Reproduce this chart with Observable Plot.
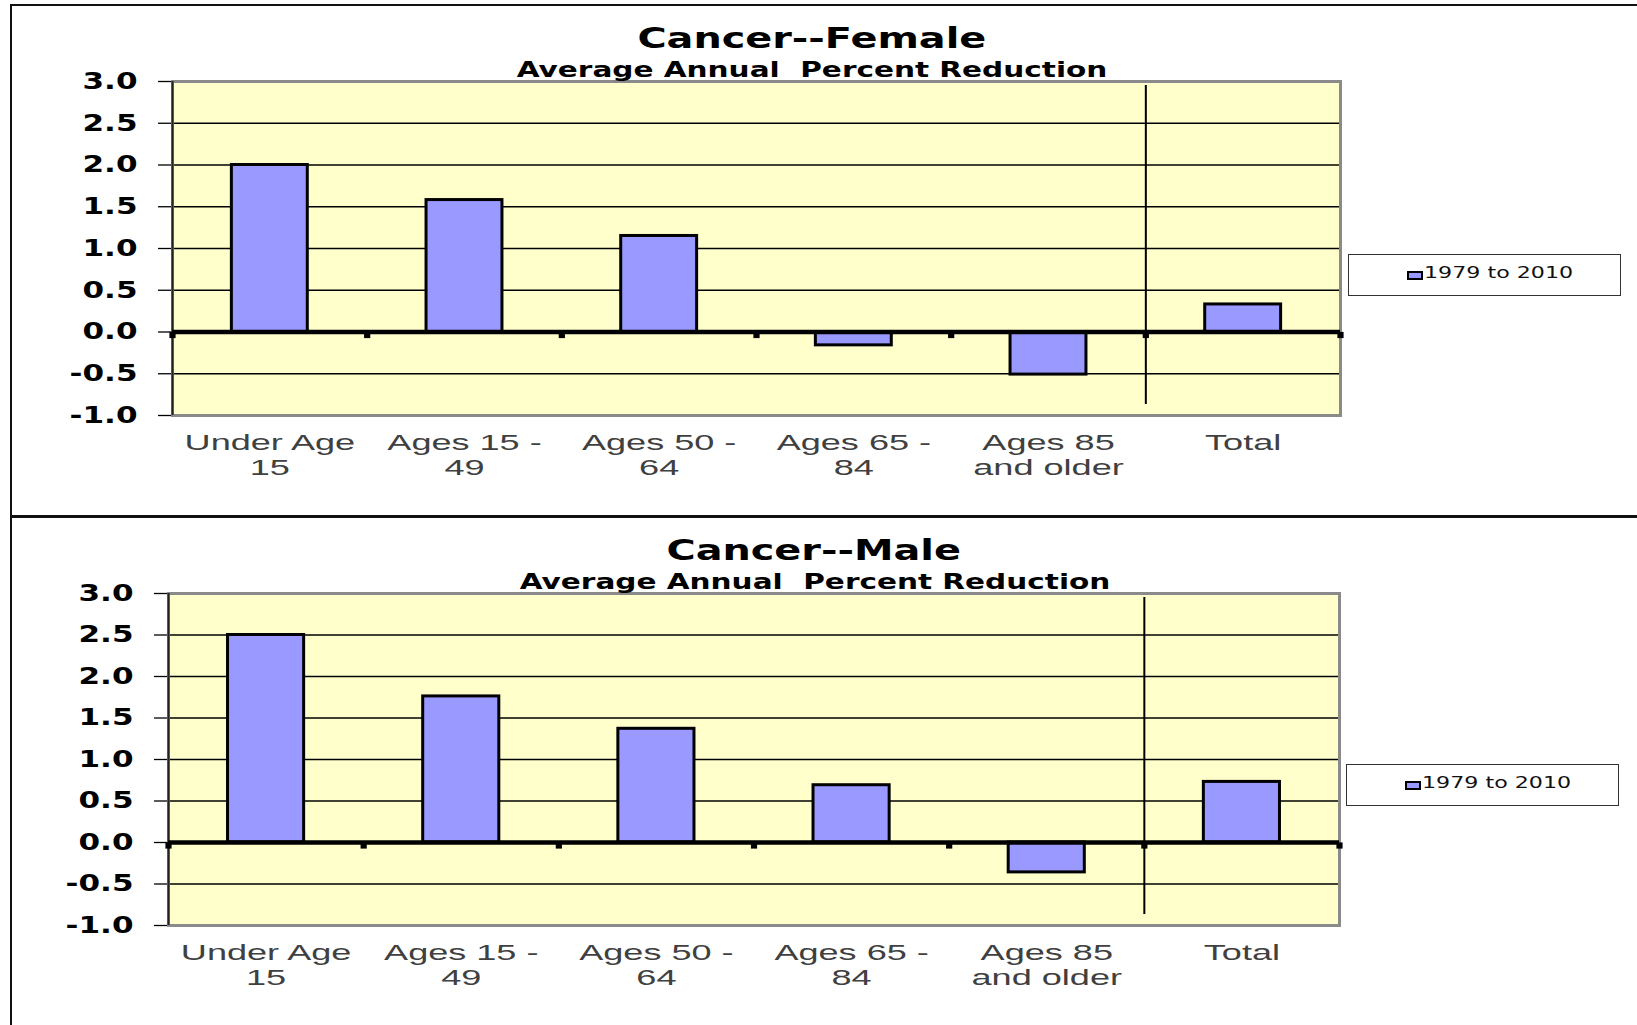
<!DOCTYPE html>
<html><head><meta charset="utf-8">
<script src="https://cdn.jsdelivr.net/npm/d3@7"></script>
<script src="https://cdn.jsdelivr.net/npm/@observablehq/plot@0.6"></script>
<style>
body{margin:0;background:#fff;}
#page{position:relative;width:1637px;height:1025px;overflow:hidden;background:#fff;font-family:"DejaVu Sans";}
.box{position:absolute;box-sizing:border-box;}
.ttl{position:absolute;width:1000px;text-align:center;font-weight:bold;color:#000;white-space:pre;line-height:1;}
.ttl span{display:inline-block;transform-origin:center;}
.legend{position:absolute;box-sizing:border-box;border:1.5px solid #333;background:#fff;width:273px;height:42px;}
.legend .sw{position:absolute;left:58px;top:16px;width:16px;height:9px;box-sizing:border-box;border:2px solid #000;background:#9999FF;}
.legend .lt{position:absolute;left:75px;top:11px;font-size:15.5px;line-height:1;color:#111;white-space:pre;transform:scaleX(1.43);transform-origin:left center;}
.chart{position:absolute;left:0;}
</style>
</head><body>
<div id="page"></div>
<script>
const categories = ["Under Age\n15", "Ages 15 -\n49", "Ages 50 -\n64", "Ages 65 -\n84", "Ages 85\nand older", "Total"];
const femaleValues = [2.0, 1.58, 1.15, -0.16, -0.51, 0.33];
const maleValues = [2.5, 1.76, 1.37, 0.69, -0.36, 0.73];
const yTicks = [-1.0, -0.5, 0.0, 0.5, 1.0, 1.5, 2.0, 2.5, 3.0];
const yDomain = [-1, 3];
const seriesName = "1979 to 2010";
const subtitleText = "Average Annual  Percent Reduction";
const panels = [
  {title: "Cancer--Female", values: femaleValues},
  {title: "Cancer--Male", values: maleValues}
];

const page = document.getElementById("page");

function panelChart(values, m) {
  const data = categories.map((c, i) => ({cat: c, idx: i, value: values[i]}));
  const boundaries = d3.range(categories.length + 1);
  const divider = [categories.indexOf("Total")];
  return Plot.plot({
    width: 1637, height: 500,
    marginTop: m.top, marginBottom: m.bottom, marginLeft: m.left, marginRight: m.right,
    x: {domain: [0, categories.length], axis: null},
    y: {domain: yDomain, axis: null},
    style: {fontFamily: "DejaVu Sans", background: "transparent", overflow: "visible"},
    marks: [
      Plot.frame({fill: "#FFFFCC", stroke: "none"}),
      Plot.ruleY(yTicks, {stroke: "#000", strokeWidth: 1.3}),
      Plot.axisY(yTicks, {tickSize: 14, tickPadding: 21, tickFormat: d => d.toFixed(1), fontSize: 23, fontWeight: "bold", color: "#000", strokeWidth: 1.3}),
      Plot.frame({stroke: "#8a8a8a", strokeWidth: 3}),
      Plot.ruleX([0], {x: () => 0, stroke: "#222", strokeWidth: 2}),
      Plot.ruleX(divider, {x: d => d, insetTop: 4, insetBottom: 11, stroke: "#000", strokeWidth: 2}),
      Plot.rect(data, {x1: d => d.idx + 0.305, x2: d => d.idx + 0.695, y1: () => 0, y2: d => d.value, fill: "#9999FF", stroke: "#000", strokeWidth: 3}),
      Plot.ruleY([0], {stroke: "#000", strokeWidth: 4.5}),
      Plot.dot(boundaries, {x: d => d, y: () => 0, symbol: "square", r: 3.5, fill: "#000", stroke: "none", dy: 3}),
      Plot.text(data, {x: d => d.idx + 0.5, text: d => d.cat.split("\n")[0], frameAnchor: "bottom", lineAnchor: "bottom", dy: 34, fontSize: 22, fontFamily: "Liberation Sans", fill: "#404040"}),
      Plot.text(data, {x: d => d.idx + 0.5, text: d => d.cat.split("\n")[1] || "", frameAnchor: "bottom", lineAnchor: "bottom", dy: 59, fontSize: 22, fontFamily: "Liberation Sans", fill: "#404040"})
    ]
  });
}

function stretchText(svg) {
  svg.querySelectorAll("text").forEach(t => {
    if (t.querySelector("tspan")) return;
    const fam = getComputedStyle(t).fontFamily || "";
    const k = fam.includes("Liberation") ? 1.64 : 1.35;
    const w = t.getComputedTextLength();
    if (w > 0) {
      t.setAttribute("textLength", (w * k).toFixed(1));
      t.setAttribute("lengthAdjust", "spacingAndGlyphs");
    }
  });
}

// panel frames
const f1 = document.createElement("div");
f1.className = "box";
Object.assign(f1.style, {left: "10px", top: "4px", width: "1700px", height: "513px", borderTop: "2px solid #111", borderLeft: "2px solid #111", borderBottom: "2px solid #111"});
page.appendChild(f1);
const f2 = document.createElement("div");
f2.className = "box";
Object.assign(f2.style, {left: "10px", top: "516px", width: "1700px", height: "600px", borderTop: "2px solid #111", borderLeft: "2px solid #111"});
page.appendChild(f2);

const layout = [
  {svgTop: 0, m: {top: 81, bottom: 85, left: 172, right: 297}, titleTop: 25.2, titleX: 812, subTop: 59.7, subX: 812.5, legLeft: 1348, legTop: 254},
  {svgTop: 512, m: {top: 81, bottom: 87, left: 168, right: 298}, titleTop: 537.2, titleX: 813.5, subTop: 572, subX: 815, legLeft: 1346, legTop: 764}
];

panels.forEach((p, i) => {
  const L = layout[i];
  const svg = panelChart(p.values, L.m);
  svg.classList.add("chart");
  svg.style.top = L.svgTop + "px";
  svg.style.position = "absolute";
  page.appendChild(svg);
  stretchText(svg);

  const t = document.createElement("div");
  t.className = "ttl";
  t.style.left = (L.titleX - 500) + "px";
  t.style.top = L.titleTop + "px";
  t.style.fontSize = "28px";
  const ts = document.createElement("span");
  ts.textContent = p.title;
  ts.style.transform = "scaleX(1.42)";
  t.appendChild(ts);
  page.appendChild(t);

  const s = document.createElement("div");
  s.className = "ttl";
  s.style.left = (L.subX - 500) + "px";
  s.style.top = L.subTop + "px";
  s.style.fontSize = "20.5px";
  const ss = document.createElement("span");
  ss.textContent = subtitleText;
  ss.style.transform = "scaleX(1.44)";
  s.appendChild(ss);
  page.appendChild(s);

  const lg = document.createElement("div");
  lg.className = "legend";
  lg.style.left = L.legLeft + "px";
  lg.style.top = L.legTop + "px";
  const sw = document.createElement("div"); sw.className = "sw";
  const lt = document.createElement("div"); lt.className = "lt"; lt.textContent = seriesName;
  lg.appendChild(sw); lg.appendChild(lt);
  page.appendChild(lg);
});
</script>
</body></html>
